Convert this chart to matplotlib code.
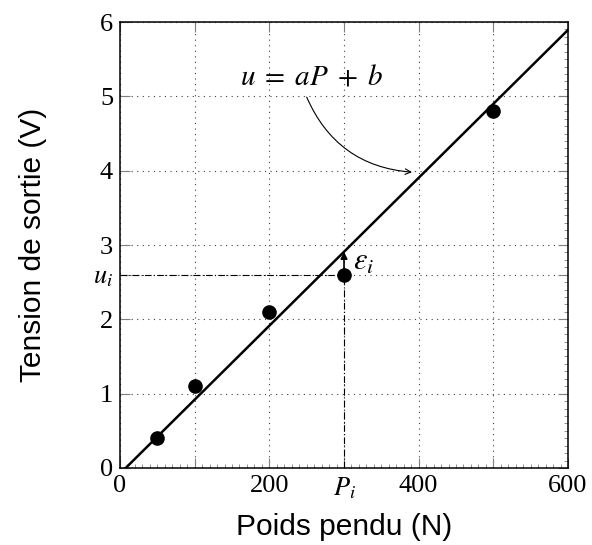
import numpy as np
import matplotlib.pyplot as plt
from matplotlib import ticker

plt.rcParams['mathtext.fontset'] = 'stix'

# mesures
poids = [50, 100, 200, 300, 500]
tension = [0.4, 1.1, 2.1, 2.6, 4.8]

# droite de regression
a, b = 0.00995, -0.076
x_droite = [-10, 600]

# point particulier (P_i, u_i)
P_i, u_i = 300, 2.6

xticks = [0, 100, 200, 300, 400, 500, 600]
xlabels = ['0', '', '200', '$P_i$', '400', '', '600']
yticks = [0, 1, 2, 2.6, 3, 4, 5, 6]
ylabels = ['0', '1', '2', '$u_i$', '3', '4', '5', '6']

fig = plt.figure(figsize=(5.92, 5.45), dpi=100)
ax = fig.add_axes([0.2027, 0.1413, 0.7568, 0.8183])

ax.set_xlim(0, 600)
ax.set_ylim(0, 6)

ax.grid(True, linestyle=(0, (1, 4)), color='0.25', linewidth=0.8)

# pointilles vers u_i et P_i
ax.plot([0, P_i], [u_i, u_i], color='black', lw=0.8, ls=(0, (6, 2, 1, 2)))
ax.plot([P_i, P_i], [0, u_i], color='black', lw=0.8, ls=(0, (6, 2, 1, 2)))

xd = np.array(x_droite)
ax.plot(xd, a * xd + b, color='black', lw=1.8, zorder=3)
ax.plot(poids, tension, 'o', color='black', ms=9.5, zorder=4)

# ecart epsilon_i
ax.annotate('', xy=(P_i, a * P_i + b), xytext=(P_i, u_i),
            arrowprops=dict(arrowstyle='-|>', color='black', lw=1.2,
                            mutation_scale=10, shrinkA=0, shrinkB=0), zorder=5)
ax.text(P_i + 12, 2.78, r'$\varepsilon_i$', fontsize=22, va='center', ha='left')

# equation de la droite
ax.text(257, 5.27, r'$u\;=\;aP\;+\;b$', fontsize=21, ha='center', va='center')
ax.annotate('', xy=(391, 3.98), xytext=(250, 4.99),
            arrowprops=dict(arrowstyle='->', color='black', lw=0.8,
                            connectionstyle='arc3,rad=0.3', shrinkA=0, shrinkB=0))

ax.set_xticks(xticks)
ax.set_xticklabels(xlabels)
ax.set_yticks(yticks)
ax.set_yticklabels(ylabels)
ax.xaxis.set_minor_locator(ticker.MultipleLocator(10))
ax.yaxis.set_minor_locator(ticker.MultipleLocator(0.1))

for lab in ax.get_xticklabels() + ax.get_yticklabels():
    lab.set_fontfamily('Liberation Serif')
    lab.set_fontsize(19)

ax.tick_params(which='major', direction='in', length=7, width=0.8, color='0.5',
               top=True, right=True, pad=5)
ax.tick_params(which='minor', direction='in', length=3, width=0.6, color='0.5',
               top=False, left=False, right=True, bottom=True)

for s in ax.spines.values():
    s.set_linewidth(1.1)

ax.set_xlabel('Poids pendu (N)', fontfamily='Liberation Sans', fontsize=21.5, labelpad=9)
ax.set_ylabel('Tension de sortie (V)', fontfamily='Liberation Sans', fontsize=21.5, labelpad=33)

fig.savefig('out.png', dpi=100)
